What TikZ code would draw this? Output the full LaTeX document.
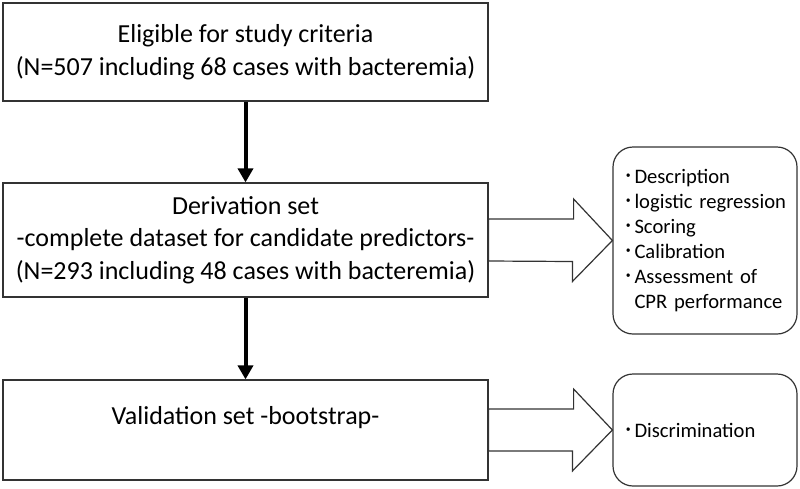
\documentclass[tikz,border=0pt]{standalone}
\usepackage{fontspec}
\setmainfont{Carlito}
\newfontfamily\cjk{Noto Sans CJK JP}
\usetikzlibrary{arrows.meta}

\tikzset{
  flowbox/.style={draw=black!80, line width=1.2pt, minimum width=485pt, align=center, font=\fontsize{26}{32.5}\selectfont},
  outbox/.style={draw=black!80, line width=1.2pt, rounded corners=20pt, minimum width=184pt, text width=165pt, inner xsep=4pt, align=left, font=\fontsize{20.6}{25}\selectfont},
  steparrow/.style={line width=4pt, -{Triangle[width=15pt,length=14pt]}},
  bigarrow/.style={draw=black!80, line width=1.2pt, fill=white, line join=miter},
}
\newcommand{\dotitem}{\makebox[12pt][l]{\hspace{1pt}\cjk ･}}

\begin{document}
\begin{tikzpicture}[x=1pt,y=-1pt]
  \useasboundingbox (0,0) rectangle (800,488);
  % main flow
  \node[flowbox, minimum height=98pt] (elig) at (245.5,52) {Eligible for study criteria\\(N=507 including 68 cases with bacteremia)};
  \node[flowbox, minimum height=114pt] (deriv) at (245.5,240) {Derivation set\\-complete dataset for candidate predictors-\\(N=293 including 48 cases with bacteremia)};
  \node[flowbox, minimum height=100pt] (valid) at (245.5,430) {};
  \node[font=\fontsize{26}{32.5}\selectfont] (validtext) at (245.5,418) {Validation set -bootstrap-};
  \draw[steparrow] (elig) -- (deriv);
  \draw[steparrow] (deriv) -- (valid);
  % analyses
  \node[outbox, minimum height=187pt] (outa) at (705,240.5) {\dotitem Description\\\dotitem logistic regression\\\dotitem Scoring\\\dotitem Calibration\\\dotitem Assessment of\\\hspace{12pt}CPR performance};
  \node[outbox, minimum height=112pt] (outb) at (705,430) {\dotitem Discrimination};
  \draw[bigarrow] ([yshift=21pt]deriv.east) -- ++(85,0) -- ++(0,-20) -- (outa.west) -- ++(-40,41) -- ++(0,-20) -- ([yshift=-21pt]deriv.east) -- cycle;
  \draw[bigarrow] ([yshift=21pt]valid.east) -- ++(85,0) -- ++(0,-20) -- (outb.west) -- ++(-40,41) -- ++(0,-20) -- ([yshift=-21pt]valid.east) -- cycle;
\end{tikzpicture}
\end{document}
